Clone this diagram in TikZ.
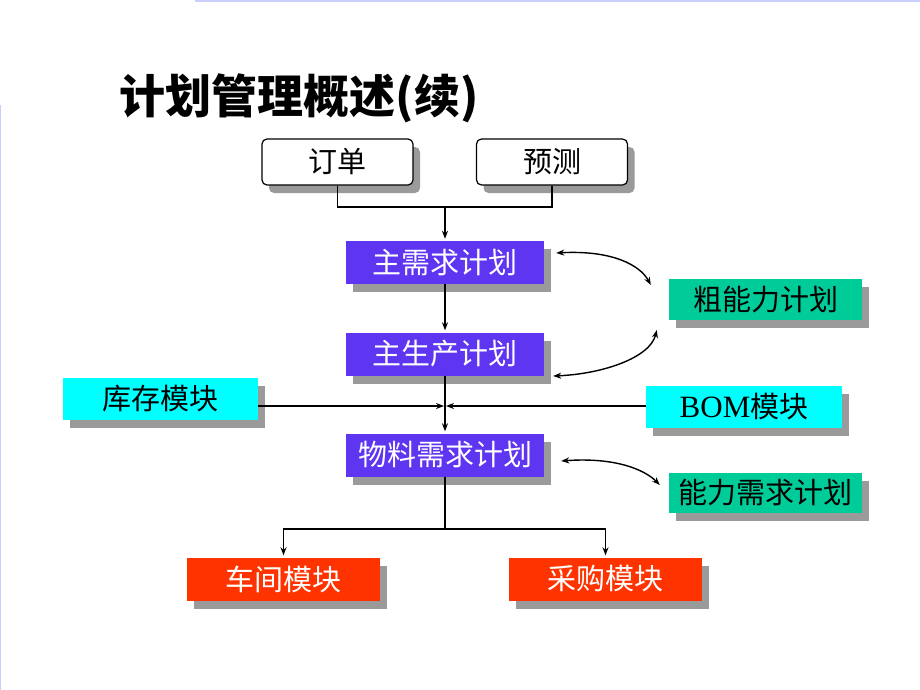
\documentclass[tikz,border=0pt]{standalone}
\usepackage{fontspec}
\setmainfont{Liberation Serif}
\newfontfamily\cjk{Noto Sans CJK SC}
\usetikzlibrary{arrows.meta,shadows}
\definecolor{planblue}{HTML}{5E35F0}
\definecolor{capgreen}{HTML}{00CC99}
\definecolor{modcyan}{HTML}{00FFFF}
\definecolor{shopred}{HTML}{FF3300}
\definecolor{shadowgray}{HTML}{9A9A9A}
\definecolor{edgeline}{HTML}{C8CEFF}

\begin{document}
\begin{tikzpicture}
[x = 1pt, y = -1pt,
 box/.style = {inner sep=0pt, minimum width=195pt, minimum height=43pt,
   font=\cjk\fontsize{29}{29}\selectfont,
   drop shadow={shadow xshift=7pt, shadow yshift=-8pt, fill=shadowgray, opacity=1}},
 input/.style = {box, draw=black, line width=1.2pt, fill=white, rounded corners=5pt,
   minimum width=151pt, minimum height=46pt},
 plan/.style = {box, fill=planblue, text=white, minimum width=198pt},
 capbox/.style = {box, fill=capgreen, minimum height=41pt},
 module/.style = {box, fill=modcyan, minimum height=42pt},
 shop/.style = {box, fill=shopred, text=white},
 conn/.style = {line width=1.4pt},
 arr/.style = {conn, -{Stealth[length=8pt,width=6pt]}, shorten >=2pt},
 both/.style = {conn, {Stealth[length=8pt,width=6pt]}-{Stealth[length=8pt,width=6pt]}}
 ]
\useasboundingbox (0,0) rectangle (920,690);
\draw [edgeline, line width=2pt] (195,1) -- (920,1);
\draw [edgeline, line width=1pt] (0.5,105) -- (0.5,690);

% title
\node (title) [font=\cjk\bfseries\fontsize{46}{46}\selectfont] at (299,98) {计划管理概述(续)};

% inputs
\node (order) [input] at (337.5,162) {订单};
\node (forecast) [input] at (552,162) {预测};

% planning chain
\node (mds) [plan] at (445,262.5) {主需求计划};
\node (mps) [plan] at (445,354) {主生产计划};
\node (mrp) [plan] at (445,455) {物料需求计划};

% capacity checks
\node (rccp) [capbox, minimum width=193pt] at (765.5,299.5) {粗能力计划};
\node (crp) [capbox, minimum width=193pt, minimum height=40pt] at (765.5,493) {能力需求计划};

% side modules
\node (stock) [module] at (160.5,399) {库存模块};
\node (bom) [module, minimum width=196pt] at (744,407) {{\rmfamily\fontsize{31}{31}\selectfont BOM}模块};

% outputs
\node (shop) [shop, minimum width=193pt] at (283.5,579) {车间模块};
\node (buy) [shop, minimum width=193pt] at (605.5,579) {采购模块};

% connectors
\coordinate (merge) at (445,207);
\coordinate (cross) at (445,406);
\coordinate (split) at (445,529);
\draw [conn] (order.south) |- (merge) -| (forecast.south);
\draw [arr] (merge) -- (mds.north);
\draw [arr] (mds.south) -- (mps.north);
\draw [arr] (mps.south) -- (mrp.north);
\draw [arr, shorten >=0pt] (stock.east |- cross) -- ([xshift=-1pt]cross);
\draw [arr, shorten >=0pt] (bom.west |- cross) -- ([xshift=1pt]cross);
\draw [conn] (mrp.south) -- (split);
\draw [arr] (split) -| (shop.north);
\draw [arr] (split) -| (buy.north);
\draw [both] ([xshift=12pt,yshift=9.5pt]mds.east) .. controls (612,250) and (640,265) .. ([xshift=-18pt,yshift=14.5pt]rccp.west);
\draw [both] ([xshift=-12pt,yshift=-30.5pt]rccp.west) .. controls (650,358) and (602,374) .. ([xshift=9pt,yshift=-22pt]mps.east);
\draw [both] ([xshift=17pt,yshift=-6pt]mrp.east) .. controls (616,457) and (645,470) .. ([xshift=-9pt,yshift=8pt]crp.west);
\end{tikzpicture}
\end{document}
